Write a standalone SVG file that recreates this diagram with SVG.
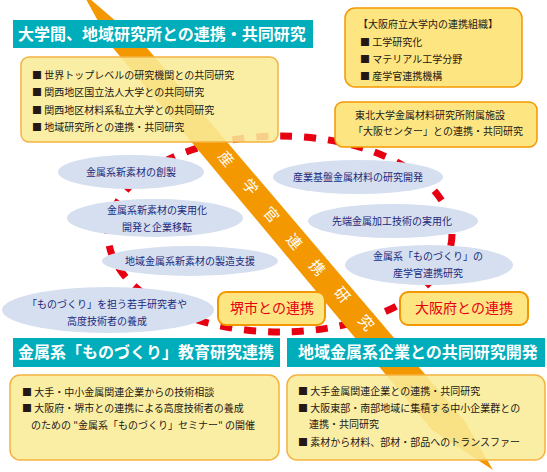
<svg xmlns="http://www.w3.org/2000/svg" width="547" height="472" viewBox="0 0 547 472">
<style>
text{font-family:"Noto Sans CJK JP","Noto Sans CJK SC",sans-serif}
.hd{fill:#fff;font-size:16px;font-weight:bold}
.bar{fill:#00adba}
.box{fill:#f9ec98;fill-opacity:.88;stroke:#f5b240;stroke-width:1.5}
.box2{fill:#fde682;stroke:#f39800;stroke-width:1.5}
.t{font-size:10px;fill:#231815}
.el{fill:#d5dff0}
.et{font-size:10px;fill:#1d2a7a;text-anchor:middle}
.tag{fill:#fde682;stroke:#f39800;stroke-width:2}
.tagt{font-size:14px;fill:#e60012;text-anchor:middle}
.bt{font-size:15px;fill:#fff;text-anchor:middle}
</style>
<rect width="547" height="472" fill="#fff"/>
<g id="connectors">
<ellipse cx="280" cy="234" rx="172" ry="98" fill="none" stroke="#e60012" stroke-width="7" stroke-dasharray="12 12"/>
</g>
<g id="e1"><ellipse class="el" cx="131" cy="172" rx="73" ry="17"/><text class="et" x="131" y="176">金属系新素材の創製</text></g>
<g id="e2"><ellipse class="el" cx="155" cy="218" rx="88" ry="19"/><text class="et" x="157" y="214">金属系新素材の実用化</text><text class="et" x="157" y="231">開発と企業移転</text></g>
<g id="e3"><ellipse class="el" cx="190" cy="261" rx="88" ry="15"/><text class="et" x="190" y="265">地域金属系新素材の製造支援</text></g>
<g id="e4"><ellipse class="el" cx="108" cy="310" rx="106" ry="23"/><text class="et" x="107" y="308">「ものづくり」を担う若手研究者や</text><text class="et" x="107" y="325">高度技術者の養成</text></g>
<g id="e5"><ellipse class="el" cx="358" cy="177" rx="85" ry="17"/><text class="et" x="358" y="181">産業基盤金属材料の研究開発</text></g>
<g id="e6"><ellipse class="el" cx="393" cy="221" rx="85" ry="17"/><text class="et" x="392" y="225">先端金属加工技術の実用化</text></g>
<g id="e7"><ellipse class="el" cx="429" cy="265" rx="84" ry="20"/><text class="et" x="428" y="260">金属系「ものづくり」の</text><text class="et" x="428" y="277">産学官連携研究</text></g>
<g id="bolt">
<polygon points="82,-8 147,48 464,420 493,470 432,430 113,48" fill="#f39800"/>
<g class="bt">
<text transform="translate(226,159) rotate(49.5)" dy="5">産</text>
<text transform="translate(250,187) rotate(49.5)" dy="5">学</text>
<text transform="translate(271,215) rotate(49.5)" dy="5">官</text>
<text transform="translate(294,242) rotate(49.5)" dy="5">連</text>
<text transform="translate(317,268) rotate(49.5)" dy="5">携</text>
<text transform="translate(342,295) rotate(49.5)" dy="5">研</text>
<text transform="translate(366,323) rotate(49.5)" dy="5">究</text>
</g>
</g>
<g id="h1"><rect class="bar" x="13" y="20" width="300" height="28"/><text class="hd" x="18" y="40">大学間、地域研究所との連携・共同研究</text></g>
<g id="b1"><rect class="box" x="21" y="57" width="257" height="85" rx="8"/>
<text class="t" x="32" y="79">■ 世界トップレベルの研究機関との共同研究</text>
<text class="t" x="32" y="96">■ 関西地区国立法人大学との共同研究</text>
<text class="t" x="32" y="114">■ 関西地区材料系私立大学との共同研究</text>
<text class="t" x="32" y="131">■ 地域研究所との連携・共同研究</text></g>
<g id="b2"><rect class="box2" x="345" y="8" width="177" height="79" rx="10"/>
<text class="t" x="358" y="28">【大阪府立大学内の連携組織】</text>
<text class="t" x="360" y="46">■ 工学研究化</text>
<text class="t" x="360" y="63">■ マテリアル工学分野</text>
<text class="t" x="360" y="80">■ 産学官連携機構</text></g>
<g id="b3"><rect class="box2" x="335" y="102" width="202" height="45" rx="8"/>
<text class="t" x="355" y="119">東北大学金属材料研究所附属施設</text>
<text class="t" x="353" y="135">「大阪センター」との連携・共同研究</text></g>
<g id="tag1"><rect class="tag" x="218" y="292" width="107" height="33" rx="8"/><text class="tagt" x="272" y="313">堺市との連携</text></g>
<g id="tag2"><rect class="tag" x="400" y="292" width="128" height="33" rx="8"/><text class="tagt" x="464" y="313">大阪府との連携</text></g>
<g id="h2"><rect class="bar" x="13" y="338" width="267" height="29"/><text class="hd" x="18" y="358">金属系「ものづくり」教育研究連携</text></g>
<g id="h3"><rect class="bar" x="287" y="338" width="258" height="29"/><text class="hd" x="298" y="358">地域金属系企業との共同研究開発</text></g>
<g id="b4"><rect class="box" x="10" y="375" width="269" height="85" rx="10"/>
<text class="t" x="22" y="396">■ 大手・中小金属関連企業からの技術相談</text>
<text class="t" x="22" y="412">■ 大阪府・堺市との連携による高度技術者の養成</text>
<text class="t" x="31" y="429">のための "金属系「ものづくり」セミナー" の開催</text></g>
<g id="b5"><rect class="box" x="287" y="375" width="258" height="85" rx="10"/>
<text class="t" x="298" y="395">■ 大手金属関連企業との連携・共同研究</text>
<text class="t" x="298" y="412">■ 大阪東部・南部地域に集積する中小企業群との</text>
<text class="t" x="309" y="428">連携・共同研究</text>
<text class="t" x="298" y="446">■ 素材から材料、部材・部品へのトランスファー</text></g>
</svg>
